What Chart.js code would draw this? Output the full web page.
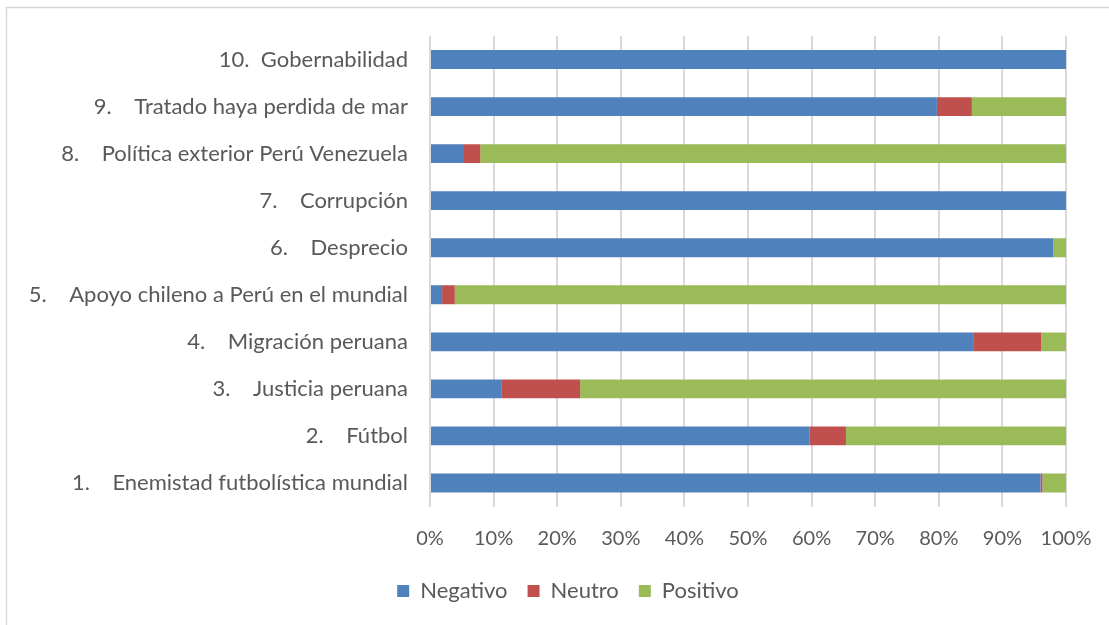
<!DOCTYPE html>
<html>
<head>
<meta charset="utf-8">
<script src="https://cdn.jsdelivr.net/npm/chart.js@4/dist/chart.umd.min.js"></script>
<style>
  html, body { margin: 0; padding: 0; background: #fff; }
  #wrap { position: relative; width: 1109px; height: 625px; }
</style>
</head>
<body>
<div id="wrap"><canvas id="chart" width="1109" height="625"></canvas></div>
<script>
// categories, top to bottom as in the picture
const categories = [
    '10.  Gobernabilidad',
    '9.    Tratado haya perdida de mar',
    '8.    Política exterior Perú Venezuela',
    '7.    Corrupción',
    '6.    Desprecio',
    '5.    Apoyo chileno a Perú en el mundial',
    '4.    Migración peruana',
    '3.    Justicia peruana',
    '2.    Fútbol',
    '1.    Enemistad futbolística mundial'
];

// percentages per category (same order)
const negativo = [100, 79.7, 5.2, 100, 98.0, 1.9, 85.4, 11.3, 59.7, 96.0];
const neutro   = [0,   5.5,  2.7, 0,   0,    2.0, 10.7, 12.3, 5.7,  0.3];
const positivo = [0,   14.8, 92.1, 0,  2.0,  96.1, 3.9, 76.4, 34.6, 3.7];

const xTicks = [0, 10, 20, 30, 40, 50, 60, 70, 80, 90, 100];

const textColor = '#595959';
const gridColor = '#d9d9d9';
const fontFamily = 'Lato, "Open Sans", sans-serif';

// light frame round the whole chart, as in the original
// also nudges the legend box so it is centred like the original one
const framePlugin = {
    id: 'frame',
    afterLayout(chart) {
        if (chart.legend) {
            chart.legend.left = 70;
            chart.legend.right = 1066;
        }
    },
    beforeDraw(chart) {
        const ctx = chart.ctx;
        ctx.save();
        ctx.fillStyle = '#fff';
        ctx.fillRect(0, 0, chart.width, chart.height);
        ctx.strokeStyle = gridColor;
        ctx.lineWidth = 1.5;
        ctx.strokeRect(6.5, 7.5, chart.width + 20, chart.height + 20);
        ctx.restore();
    }
};

Chart.defaults.font.family = fontFamily;
Chart.defaults.color = textColor;

new Chart(document.getElementById('chart'), {
    type: 'bar',
    data: {
        labels: categories,
        datasets: [
            { label: 'Negativo', data: negativo, backgroundColor: '#4f81bd' },
            { label: 'Neutro', data: neutro, backgroundColor: '#c0504d' },
            { label: 'Positivo', data: positivo, backgroundColor: '#9bbb59' }
        ]
    },
    options: {
        indexAxis: 'y',
        responsive: false,
        animation: false,
        devicePixelRatio: 1,
        categoryPercentage: 0.8,
        barPercentage: 0.5,
        layout: {
            padding: { top: 36, right: 43, left: 0, bottom: 13 }
        },
        plugins: {
            tooltip: { enabled: false },
            legend: {
                position: 'bottom',
                labels: {
                    boxWidth: 12,
                    boxHeight: 12,
                    padding: 20,
                    color: textColor,
                    font: { size: 22 }
                }
            }
        },
        scales: {
            x: {
                stacked: true,
                min: 0,
                max: 100,
                afterBuildTicks(scale) {
                    scale.ticks = xTicks.map(v => ({ value: v }));
                },
                afterFit(scale) {
                    scale.height = 53.5;
                    scale.paddingLeft = 0;
                    scale.paddingRight = 0;
                },
                ticks: {
                    padding: 20,
                    color: textColor,
                    font: { size: 20 },
                    maxRotation: 0,
                    callback: v => v + '%'
                },
                grid: {
                    color: gridColor,
                    lineWidth: 2,
                    drawTicks: false
                },
                border: { display: false }
            },
            y: {
                stacked: true,
                afterFit(scale) {
                    scale.width = 430;
                    scale.paddingTop = 0;
                    scale.paddingBottom = 0;
                },
                ticks: {
                    padding: 22,
                    color: textColor,
                    font: { size: 22 }
                },
                grid: { display: false, drawTicks: false },
                border: { display: false }
            }
        }
    },
    plugins: [framePlugin]
});
</script>
</body>
</html>
